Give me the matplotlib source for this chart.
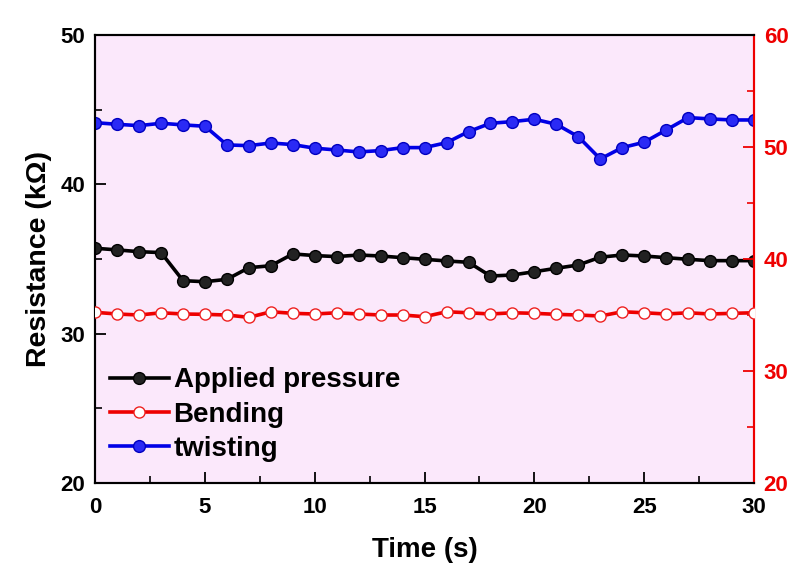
import matplotlib
matplotlib.use("Agg")
import matplotlib.pyplot as plt
from matplotlib.ticker import MultipleLocator

plt.rcParams['font.family'] = ['Liberation Sans', 'DejaVu Sans']
plt.rcParams['font.weight'] = 'bold'

time = list(range(0, 31))
pressure = [35.72, 35.61, 35.49, 35.43, 33.55, 33.48, 33.64, 34.42, 34.55, 35.34,
            35.23, 35.16, 35.27, 35.20, 35.09, 34.98, 34.87, 34.78, 33.86, 33.93,
            34.15, 34.38, 34.60, 35.12, 35.27, 35.20, 35.09, 34.98, 34.89, 34.89, 34.89]
twisting = [44.13, 44.02, 43.93, 44.09, 43.98, 43.89, 42.64, 42.59, 42.77, 42.66,
            42.42, 42.30, 42.17, 42.26, 42.46, 42.46, 42.79, 43.53, 44.09, 44.20,
            44.36, 44.02, 43.19, 41.70, 42.46, 42.82, 43.64, 44.47, 44.38, 44.31, 44.31]
bending = [35.24, 35.09, 35.00, 35.20, 35.09, 35.06, 35.00, 34.79, 35.29, 35.15,
           35.09, 35.20, 35.09, 35.00, 35.00, 34.85, 35.29, 35.20, 35.09, 35.20,
           35.15, 35.06, 35.00, 34.91, 35.29, 35.20, 35.09, 35.20, 35.09, 35.15, 35.20]

fig = plt.figure(figsize=(8, 5.7), dpi=100)
ax = fig.add_axes([0.119, 0.1526, 0.8235, 0.786])
ax.set_facecolor('#fbe8fb')
ax2 = ax.twinx()

l1, = ax.plot(time, pressure, '-o', color='black', lw=2.6, ms=8.5,
              mfc='#222222', mec='black', mew=1, label='Applied pressure', zorder=3)
l3, = ax.plot(time, twisting, '-o', color='#0000e6', lw=2.6, ms=8.5,
              mfc='#2a2af5', mec='#0000c0', mew=1, label='twisting', zorder=3)
l2, = ax2.plot(time, bending, '-o', color='#ee0000', lw=2.6, ms=8,
               mfc='white', mec='#ee2020', mew=1, label='Bending', zorder=3)

ax.set_xlim(0, 30)
ax.set_ylim(20, 50)
ax2.set_ylim(20, 60)

ax.xaxis.set_major_locator(MultipleLocator(5))
ax.xaxis.set_minor_locator(MultipleLocator(2.5))
ax.yaxis.set_major_locator(MultipleLocator(10))
ax.yaxis.set_minor_locator(MultipleLocator(5))
ax2.yaxis.set_major_locator(MultipleLocator(10))
ax2.yaxis.set_minor_locator(MultipleLocator(5))

ax.tick_params(axis='both', which='major', direction='in', length=8, width=1.3,
               labelsize=16, pad=7)
ax.tick_params(axis='x', which='major', pad=10)
ax.tick_params(axis='both', which='minor', direction='in', length=5, width=1.2)
ax.tick_params(axis='y', right=False)
ax.tick_params(axis='x', top=False, which='both')
ax2.tick_params(axis='y', which='major', direction='in', length=8, width=1.3,
                labelsize=16, colors='#ee0000', pad=7)
ax2.tick_params(axis='y', which='minor', direction='in', length=5, width=1.2,
                colors='#ee0000')

for a in (ax, ax2):
    for s in ('left', 'top', 'bottom'):
        a.spines[s].set_linewidth(1.5)
        a.spines[s].set_color('black')
    a.spines['right'].set_color('#ee0000')
    a.spines['right'].set_linewidth(1.5)

for lab in ax.get_xticklabels() + ax.get_yticklabels() + ax2.get_yticklabels():
    lab.set_fontweight('bold')

ax.set_xlabel('Time (s)', fontsize=20, fontweight='bold', labelpad=14)
ax.set_ylabel('Resistance (kΩ)', fontsize=20.5, fontweight='bold', labelpad=6)

leg = ax.legend(handles=[l1, l2, l3], loc='lower left', frameon=False,
                fontsize=20, handlelength=2.1, handletextpad=0.18,
                labelspacing=0.3, borderaxespad=0.0,
                bbox_to_anchor=(0.006, 0.022))
for t in leg.get_texts():
    t.set_fontweight('bold')

fig.savefig('out.png', dpi=100)
